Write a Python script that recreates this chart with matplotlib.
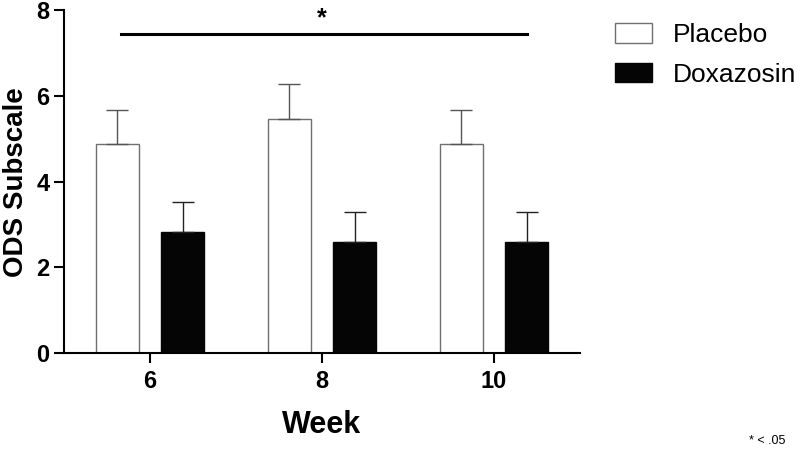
import numpy as np
import matplotlib.pyplot as plt

plt.rcParams["font.family"] = ["Liberation Sans", "DejaVu Sans"]

weeks = ["6", "8", "10"]
placebo = [4.87, 5.47, 4.87]
placebo_err = [0.8, 0.8, 0.8]
doxazosin = [2.83, 2.6, 2.6]
doxazosin_err = [0.7, 0.7, 0.7]

x = np.arange(len(weeks))
width = 0.25
offset = 0.19

fig = plt.figure(figsize=(8, 4.58), dpi=100)
ax = fig.add_axes([0.08, 0.2286, 0.645, 0.7496])

ax.bar(x - offset, placebo, width, color="white", edgecolor="#707070",
       linewidth=1.0, label="Placebo",
       yerr=[np.zeros(3), placebo_err],
       error_kw=dict(ecolor="#555555", elinewidth=1.0, capsize=8, capthick=1.0))
ax.bar(x + offset, doxazosin, width, color="#050505", edgecolor="#050505",
       linewidth=1.0, label="Doxazosin",
       yerr=[np.zeros(3), doxazosin_err],
       error_kw=dict(ecolor="#222222", elinewidth=1.0, capsize=8, capthick=1.0))

# significance bar
ax.plot([-0.17, 2.19], [7.44, 7.44], color="black", linewidth=2.2, clip_on=False)
ax.text(1.0, 7.8, "*", ha="center", va="center", fontsize=18, fontweight="bold")

ax.set_xlim(-0.5, 2.5)
ax.set_ylim(0, 8)
ax.set_xticks(x)
ax.set_xticklabels(weeks)
ax.set_yticks([0, 2, 4, 6, 8])
ax.tick_params(axis="both", labelsize=17, width=1.5, length=7, direction="out")
ax.tick_params(axis="x", pad=5)
for lab in ax.get_xticklabels() + ax.get_yticklabels():
    lab.set_fontweight("bold")

ax.spines["top"].set_visible(False)
ax.spines["right"].set_visible(False)
ax.spines["left"].set_linewidth(1.5)
ax.spines["bottom"].set_linewidth(1.5)

ax.set_xlabel("Week", fontsize=22, fontweight="bold", labelpad=12)
ax.set_ylabel("ODS Subscale", fontsize=20, fontweight="bold", labelpad=5)

ax.legend(loc="upper left", bbox_to_anchor=(0.746, 0.99), bbox_transform=fig.transFigure,
          frameon=False, fontsize=19, handlelength=1.4, handleheight=0.75,
          labelspacing=0.6, handletextpad=0.8, borderaxespad=0.3)

fig.text(0.982, 0.024, "* < .05", ha="right", va="bottom", fontsize=9)

fig.savefig("out.png", dpi=100)
